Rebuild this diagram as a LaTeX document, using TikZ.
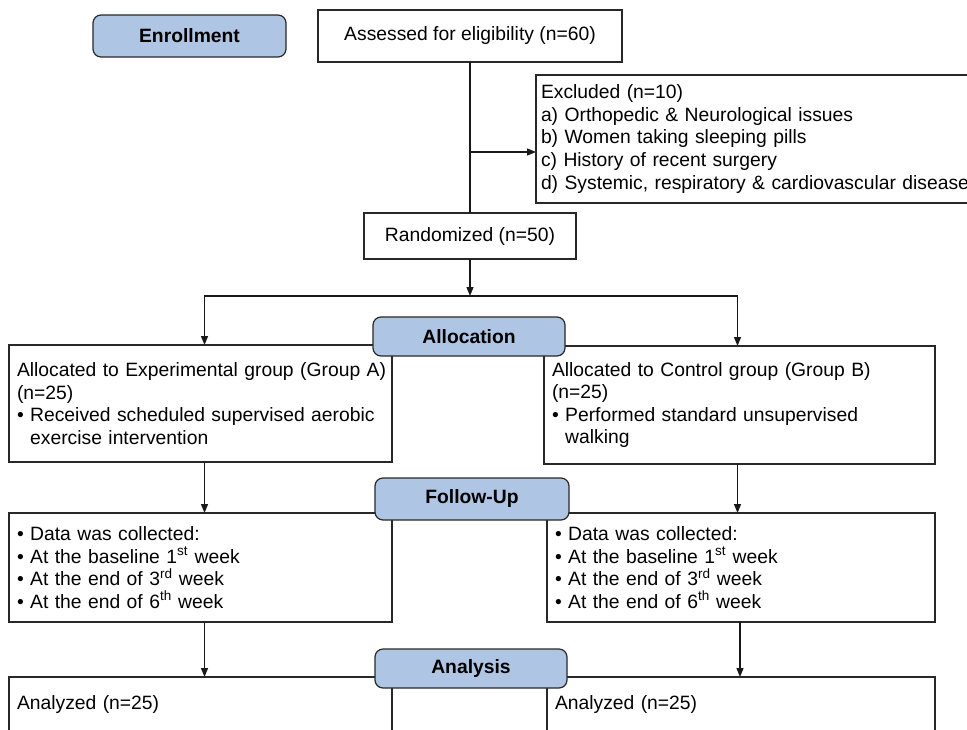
\documentclass[tikz,border=0pt]{standalone}
\usepackage{fontspec}
\setmainfont{Liberation Sans}
\usetikzlibrary{arrows.meta,calc}
\definecolor{linec}{RGB}{40,40,40}
\definecolor{bluefill}{RGB}{175,197,228}
\begin{document}
\begin{tikzpicture}[x=1pt,y=-1pt,
  every node/.style={font=\fontsize{19.3}{22.6}\selectfont},
  plainbox/.style={draw=linec, line width=1.2pt, fill=white, anchor=north west,
     inner xsep=8pt, inner ysep=0pt, align=left, outer sep=0pt},
  stagebox/.style={draw=linec, line width=1.2pt, fill=bluefill, rounded corners=8pt,
     anchor=north west, inner sep=0pt, outer sep=0pt,
     font=\fontsize{19.3}{22.6}\selectfont\bfseries},
  arr/.style={draw=black!90, line width=1.3pt, -{Triangle[length=9pt,width=7pt]}},
  ln/.style={draw=black!90, line width=1.3pt}
]
\useasboundingbox (0,0) rectangle (967,729);
\clip (0,0) rectangle (967,729);

% enrollment
\node[stagebox, minimum width=193pt, minimum height=42pt] (enroll) at (93,15) {Enrollment};
\node[plainbox, minimum width=304pt, minimum height=52pt, align=center] (assess) at (318,10) {Assessed for eligibility (n=60)};
\node[plainbox, minimum width=520pt, minimum height=128pt, text width=510pt, inner xsep=5pt] (excl) at (536,75)
  {Excluded (n=10)\\a) Orthopedic \& Neurological issues\\b) Women taking sleeping pills\\c) History of recent surgery\\d) Systemic, respiratory \& cardiovascular disease};
\node[plainbox, minimum width=212pt, minimum height=46pt, align=center] (rand) at (364,213) {Randomized (n=50)};

% allocation
\node[plainbox, minimum width=383pt, minimum height=117pt, text width=367pt] (grpA) at (9,345)
  {\mbox{Allocated to Experimental group (Group A)}\\(n=25)\\\mbox{\textbullet\ Received scheduled supervised aerobic}\\\phantom{\textbullet\ }exercise intervention};
\node[plainbox, minimum width=391pt, minimum height=118pt, text width=375pt] (grpB) at (544,346)
  {Allocated to Control group (Group B)\\(n=25)\\\textbullet\ Performed standard unsupervised\\\phantom{\textbullet\ }walking};
\node[stagebox, minimum width=192pt, minimum height=39pt] (alloc) at (373,317) {Allocation};

% follow-up
\node[plainbox, minimum width=383pt, minimum height=109pt, text width=367pt] (fuA) at (9,513)
  {\textbullet\ Data was collected:\\\textbullet\ At the baseline 1\textsuperscript{st} week\\\textbullet\ At the end of 3\textsuperscript{rd} week\\\textbullet\ At the end of 6\textsuperscript{th} week};
\node[plainbox, minimum width=388pt, minimum height=109pt, text width=372pt] (fuB) at (547,513)
  {\textbullet\ Data was collected:\\\textbullet\ At the baseline 1\textsuperscript{st} week\\\textbullet\ At the end of 3\textsuperscript{rd} week\\\textbullet\ At the end of 6\textsuperscript{th} week};
\node[stagebox, minimum width=194pt, minimum height=42pt] (follow) at (375,478) {Follow-Up};

% analysis
\node[plainbox, minimum width=383pt, minimum height=54pt, text width=367pt] (anA) at (9,677) {Analyzed (n=25)};
\node[plainbox, minimum width=388pt, minimum height=54pt, text width=372pt] (anB) at (547,677) {Analyzed (n=25)};
\node[stagebox, minimum width=192pt, minimum height=39pt] (anal) at (375,649) {Analysis};

% connectors
\draw[ln] (assess.south) -- (assess.south |- rand.north);
\path (assess.south) ++(0,90) coordinate (exj);
\draw[arr] (exj) -- (exj -| excl.west);
\path (assess.south |- rand.south) ++(0,37) coordinate (split);
\draw[arr] (assess.south |- rand.south) -- (split);
\draw[arr] (split) -| ([xshift=4pt]grpA.north);
\draw[arr] (split) -| ([xshift=-2pt]grpB.north);
\draw[arr] ([xshift=4pt]grpA.south) -- ([xshift=4pt]grpA.south |- fuA.north);
\draw[arr] ([xshift=-2pt]grpB.south) -- ([xshift=-2pt]grpB.south |- fuB.north);
\draw[arr] ([xshift=4pt]fuA.south) -- ([xshift=4pt]fuA.south |- anA.north);
\draw[arr] ([xshift=-1pt]fuB.south) -- ([xshift=-1pt]fuB.south |- anB.north);
\end{tikzpicture}
\end{document}
